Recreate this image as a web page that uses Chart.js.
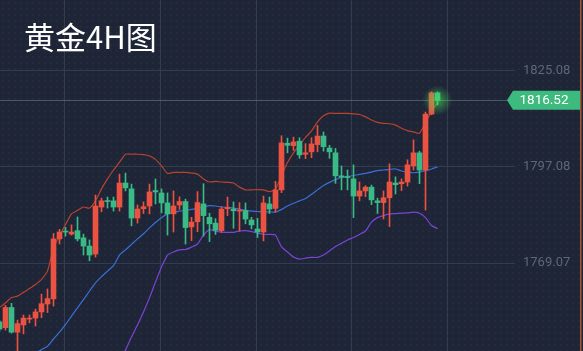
<!DOCTYPE html>
<html><head><meta charset="utf-8">
<script src="https://cdn.jsdelivr.net/npm/chart.js@4.4.0/dist/chart.umd.min.js"></script>
<style>
html,body{margin:0;padding:0;background:#1e2536;}
#wrap{position:relative;width:583px;height:351px;overflow:hidden;background:#1e2536;}
#title{position:absolute;left:24px;top:21px;color:#ffffff;font:400 31px/30px "Noto Sans CJK SC";white-space:nowrap;z-index:2;}
</style></head><body>
<div id="wrap"><canvas id="c"></canvas><div id="title">黄金4H图</div></div>
<script>
// ---- data (4H candles, gold) ----
const opens = [1751.9,1750.2,1756.1,1748.9,1751.0,1752.7,1753.0,1754.8,1757.1,1758.6,
1776.1,1778.3,1777.5,1778.5,1776.4,1774.0,1771.7,1785.4,1787.2,1787.2,
1785.4,1792.4,1790.7,1782.2,1784.9,1785.7,1790.2,1789.5,1786.6,1783.4,
1786.0,1787.0,1779.6,1781.1,1786.3,1782.4,1780.7,1778.5,1784.9,1784.8,
1784.2,1784.4,1781.6,1779.0,1778.1,1786.3,1785.0,1790.4,1804.0,1803.3,
1804.6,1800.8,1801.5,1803.6,1806.1,1802.6,1801.2,1794.5,1794.2,1793.6,
1788.6,1790.1,1791.2,1787.2,1786.7,1788.1,1792.4,1792.2,1792.7,1797.4,
1801.2,1796.2,1812.5,1818.7];
const highs = [1752.4,1756.7,1757.3,1752.4,1753.9,1753.9,1755.6,1760.0,1761.5,1777.7,
1778.9,1779.5,1780.2,1782.5,1777.5,1775.8,1788.9,1788.0,1788.3,1788.3,
1795.0,1795.3,1792.1,1786.0,1786.9,1792.1,1793.6,1790.7,1789.5,1790.1,
1788.4,1787.7,1782.4,1789.9,1792.2,1783.6,1782.0,1785.5,1788.3,1786.9,
1786.7,1786.6,1782.4,1782.1,1788.6,1788.3,1792.9,1806.2,1805.5,1805.8,
1805.6,1803.9,1805.6,1809.2,1807.3,1803.4,1802.5,1797.4,1796.2,1797.7,
1792.7,1791.6,1791.8,1788.0,1790.1,1798.0,1794.2,1793.6,1799.2,1805.0,
1801.7,1813.1,1819.0,1819.0];
const lows = [1749.2,1749.5,1748.6,1743.1,1748.4,1751.6,1750.7,1753.1,1754.6,1756.5,
1774.6,1776.9,1777.2,1775.5,1771.4,1769.7,1770.8,1784.0,1785.1,1784.2,
1784.2,1790.1,1779.9,1780.7,1783.5,1783.4,1786.3,1783.7,1777.2,1778.1,
1784.7,1774.6,1775.6,1778.2,1776.9,1775.3,1777.4,1778.0,1782.9,1779.2,
1778.3,1780.5,1779.0,1776.5,1775.5,1783.5,1783.9,1789.6,1801.2,1801.9,
1799.6,1799.5,1799.8,1801.5,1801.7,1799.6,1792.3,1790.4,1790.4,1782.3,
1787.2,1788.4,1786.1,1783.5,1781.9,1779.7,1789.2,1790.2,1791.5,1796.2,
1792.2,1784.5,1812.3,1815.2];
const closes = [1749.8,1756.1,1748.9,1751.4,1753.0,1753.0,1754.8,1757.2,1758.7,1776.1,
1778.1,1778.1,1778.1,1776.1,1774.0,1771.4,1785.7,1787.2,1787.0,1785.4,
1792.4,1791.0,1782.2,1784.8,1785.5,1789.8,1789.8,1786.6,1783.4,1785.7,
1787.0,1779.4,1781.0,1786.7,1782.9,1780.5,1778.6,1784.8,1785.3,1784.3,
1784.5,1781.9,1780.2,1778.1,1786.6,1784.8,1790.4,1804.1,1803.4,1804.4,
1800.6,1801.2,1803.8,1806.1,1803.0,1801.5,1794.5,1794.1,1794.0,1788.6,
1790.1,1791.2,1787.5,1786.7,1788.1,1792.7,1791.9,1792.7,1797.7,1801.2,
1796.2,1812.5,1818.7,1816.52];
// Bollinger bands
const bollUpper = [1756.1,1757.4,1759.0,1759.4,1760.5,1761.6,1762.8,1764.3,1766.7,1773.5,
1777.0,1780.3,1783.4,1784.4,1785.4,1785.1,1787.2,1790.7,1793.6,1796.2,
1798.5,1800.8,1800.8,1800.8,1800.7,1800.3,1799.3,1797.4,1795.2,1795.5,
1795.5,1795.5,1795.3,1795.0,1793.6,1792.7,1792.9,1792.7,1792.6,1792.4,
1791.2,1790.4,1790.4,1790.5,1790.4,1789.9,1790.6,1794.6,1798.4,1801.2,
1803.5,1805.7,1807.6,1810.2,1812.0,1812.8,1812.7,1812.7,1812.7,1812.6,
1812.4,1811.7,1810.8,1810.1,1809.8,1809.7,1809.3,1808.4,1807.7,1807.3,
1806.9,1810.1,1813.2,1815.8];
const bollMiddle = [1737.3,1738.4,1739.6,1740.5,1741.4,1742.1,1742.8,1743.8,1744.8,1746.9,
1748.9,1751.1,1753.6,1756.0,1758.4,1760.9,1763.3,1765.1,1766.7,1768.3,
1771.4,1772.9,1774.5,1776.1,1777.6,1779.3,1780.9,1782.3,1783.4,1783.8,
1784.2,1784.4,1784.7,1785.0,1785.4,1785.8,1785.7,1785.4,1785.3,1785.1,
1784.8,1784.4,1784.2,1784.1,1784.0,1784.0,1783.9,1784.7,1785.7,1786.5,
1787.2,1787.9,1789.1,1790.4,1791.7,1792.6,1793.4,1794.0,1794.3,1794.6,
1794.9,1795.2,1795.6,1796.0,1796.2,1796.4,1796.5,1795.9,1795.6,1795.4,
1795.6,1796.0,1796.5,1797.1];
const bollLower = [1718.6,1719.5,1720.4,1721.5,1722.4,1722.7,1723.0,1723.6,1723.0,1720.4,
1720.9,1722.1,1723.9,1727.7,1731.4,1733.5,1734.9,1735.5,1736.4,1737.3,
1740.2,1743.7,1747.5,1751.0,1754.8,1758.9,1763.5,1767.9,1771.4,1772.3,
1772.9,1773.0,1773.7,1774.6,1777.2,1778.8,1778.3,1778.1,1778.0,1778.0,
1778.4,1778.5,1778.2,1777.8,1777.4,1777.4,1777.2,1773.8,1772.3,1770.8,
1770.2,1770.5,1770.7,1770.7,1771.4,1772.6,1773.9,1774.8,1775.8,1776.5,
1777.4,1778.4,1781.0,1782.3,1782.9,1783.4,1783.5,1783.6,1783.7,1783.9,
1783.6,1782.3,1780.0,1779.1];
const yTickValues = [1769.07, 1797.08, 1825.08];
const xGridValues = [10.75, 26.75, 42.75, 58.75, 74.75];

// ---- styles ----
const UP = '#ea5342', DOWN = '#3aba86';
const BG = '#1e2536', GRID = '#343c50';

const idx = opens.map((_, i) => i);
const candleColor = idx.map(i => closes[i] >= opens[i] ? UP : DOWN);
const bodies = idx.map(i => ({x: i, y: [opens[i], closes[i]]}));
const wicks = idx.map(i => ({x: i, y: [lows[i], highs[i]]}));
const line = arr => arr.map((v, i) => ({x: i, y: v}));

const bgPlugin = {
  id: 'bg',
  beforeDraw(chart) {
    const {ctx, width, height} = chart;
    ctx.save();
    ctx.fillStyle = BG;
    ctx.fillRect(0, 0, width, height);
    // faint halftone dot texture
    ctx.fillStyle = 'rgba(255,255,255,0.03)';
    for (let y = 2; y < height; y += 6) {
      for (let x = 2; x < width; x += 6) ctx.fillRect(x, y, 2, 2);
    }
    ctx.restore();
  }
};
const pricePlugin = {
  id: 'price',
  beforeDatasetsDraw(chart) {
    const {ctx, chartArea} = chart;
    const y = Math.round(chart.scales.y.getPixelForValue(closes[closes.length - 1])) + 0.5;
    ctx.save();
    ctx.strokeStyle = 'rgba(100,140,125,0.55)';
    ctx.lineWidth = 1;
    ctx.beginPath();
    ctx.moveTo(chartArea.left, y);
    ctx.lineTo(508, y);
    ctx.stroke();
    ctx.restore();
  },
  afterDatasetsDraw(chart) {
    const {ctx} = chart;
    const n = closes.length - 1;
    const x = chart.scales.x.getPixelForValue(n);
    const y = chart.scales.y.getPixelForValue(closes[n]);
    ctx.save();
    const g = ctx.createRadialGradient(x, y, 0, x, y, 15);
    g.addColorStop(0, 'rgba(70,230,90,0.6)');
    g.addColorStop(1, 'rgba(70,230,90,0)');
    ctx.fillStyle = g;
    ctx.beginPath();
    ctx.arc(x, y, 15, 0, Math.PI * 2);
    ctx.fill();
    ctx.restore();
  },
  afterDraw(chart) {
    const {ctx, height} = chart;
    const last = closes[closes.length - 1];
    const y = chart.scales.y.getPixelForValue(last);
    ctx.save();
    ctx.fillStyle = '#3dba7e';
    ctx.beginPath();
    ctx.moveTo(507, y);
    ctx.lineTo(513, y - 9.5);
    ctx.lineTo(580, y - 9.5);
    ctx.lineTo(580, y + 9.5);
    ctx.lineTo(513, y + 9.5);
    ctx.closePath();
    ctx.fill();
    ctx.fillStyle = '#ffffff';
    ctx.font = '13.5px Roboto';
    ctx.textAlign = 'center';
    ctx.textBaseline = 'middle';
    ctx.fillText(last.toFixed(2), 544, y + 0.5);
    ctx.strokeStyle = '#a9522f';
    ctx.lineWidth = 1.5;
    ctx.beginPath();
    ctx.moveTo(580.75, 0);
    ctx.lineTo(580.75, height);
    ctx.stroke();
    ctx.restore();
  }
};

new Chart(document.getElementById('c'), {
  type: 'bar',
  data: {
    datasets: [
      {type: 'line', data: line(bollUpper), borderColor: '#b8432f', borderWidth: 1.2, pointRadius: 0, tension: 0.2, order: 3},
      {type: 'line', data: line(bollMiddle), borderColor: '#3a6fd8', borderWidth: 1.2, pointRadius: 0, tension: 0.2, order: 3},
      {type: 'line', data: line(bollLower), borderColor: '#7b44d8', borderWidth: 1.2, pointRadius: 0, tension: 0.2, order: 3},
      {data: wicks, backgroundColor: candleColor, barThickness: 1, grouped: false, minBarLength: 1, order: 2},
      {data: bodies, backgroundColor: candleColor, barThickness: 5, grouped: false, minBarLength: 1, order: 1}
    ]
  },
  options: {
    responsive: true,
    maintainAspectRatio: false,
    animation: false,
    events: [],
    layout: {padding: 0},
    plugins: {legend: {display: false}, tooltip: {enabled: false}, title: {display: false}},
    scales: {
      x: {
        type: 'linear', min: 0.0833, max: 85.9167, offset: false,
        afterBuildTicks: s => { s.ticks = xGridValues.map(v => ({value: v})); },
        afterFit: s => { s.height = 0; s.paddingLeft = 0; s.paddingRight = 0; },
        grid: {color: GRID, lineWidth: 1, drawTicks: false, offset: false},
        border: {display: false},
        ticks: {display: false}
      },
      y: {
        position: 'right', min: 1743.40, max: 1845.79,
        afterBuildTicks: s => { s.ticks = yTickValues.map(v => ({value: v})); },
        afterFit: s => { s.width = 68; s.paddingTop = 0; s.paddingBottom = 0; },
        grid: {color: GRID, lineWidth: 1, drawTicks: false},
        border: {display: false},
        ticks: {color: '#5f6678', font: {family: 'Roboto', size: 13}, padding: 8, callback: v => Number(v).toFixed(2)}
      }
    }
  },
  plugins: [bgPlugin, pricePlugin]
});
</script>
</body></html>
